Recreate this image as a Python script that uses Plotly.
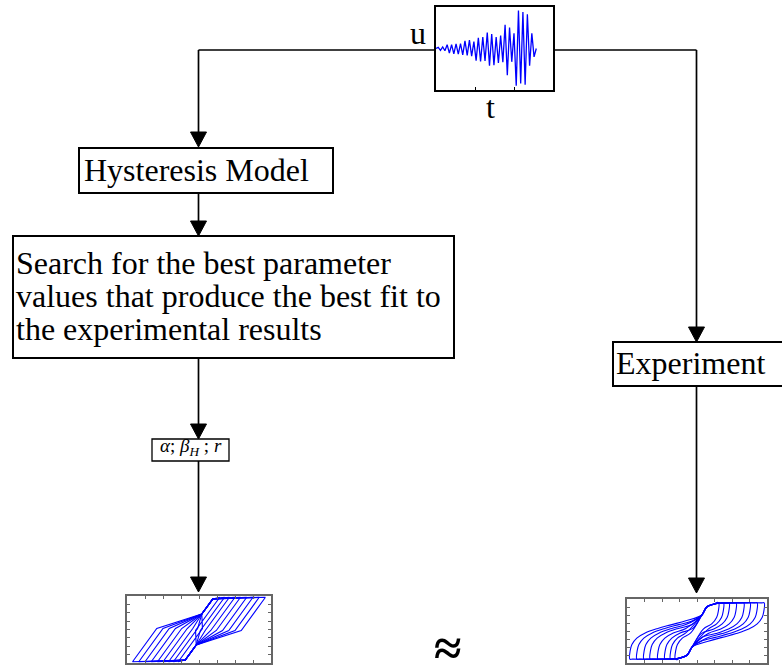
import plotly.graph_objects as go

W, H = 782, 666
FONT = "Liberation Serif"
BLUE = "#0000ff"

# Ground-motion record: successive half-cycle peaks (normalised amplitude)
SIGNAL_PEAKS = [0.03, 0.05, 0.04, 0.06, 0.10, 0.12, 0.10, 0.14, 0.12, 0.15, 0.13,
                0.17, 0.20, 0.18, 0.22, 0.20, 0.18, 0.32, 0.28, 0.34, 0.30, 0.33,
                0.42, 0.45, 0.38, 0.44, 0.30, 0.38, 0.34, 0.36, 0.62, 0.70, 0.55,
                0.35, 0.40, 0.98, 1.00, 0.92, 0.96, 0.95, 0.90, 0.45, 0.40, 0.22]

# Displacement amplitudes of the cycles (normalised)
MODEL_AMPS = [0.96, 0.87, 0.78, 0.69, 0.60, 0.52, 0.44, 0.37, 0.30]
EXP_AMPS = [0.96, 0.86, 0.76, 0.67, 0.56, 0.46, 0.38, 0.31]

# Model: peak force, elastic unloading, and pinching points shared by all cycles
MODEL_PEAK_F = 1.00
MODEL_UNLOAD = (-0.35, -1.03)               # (dx, dF) of the elastic unloading leg
MODEL_PINCH_X = [-0.04, -0.20]
MODEL_PINCH_F = [-0.48, -0.95]

# Experiment: unloading path measured from the reversal point, then the pinched core
EXP_PEAK_F = 0.88
EXP_UNLOAD_DX = [0.00, -0.005, -0.03, -0.10, -0.22, -0.40, -0.60, -0.80]
EXP_UNLOAD_F = [0.88, 0.62, 0.42, 0.22, 0.06, -0.08, -0.20, -0.32]
EXP_CORE_X = [-0.07, -0.14, -0.26]
EXP_CORE_F = [-0.50, -0.75, -0.85]


def closed(half):
    pts = half + [(-x, -y) for x, y in half] + [half[0]]
    return [p[0] for p in pts], [p[1] for p in pts]


def model_loop(a):
    half = [(a, MODEL_PEAK_F),
            (a + MODEL_UNLOAD[0], MODEL_PEAK_F + MODEL_UNLOAD[1])]
    half += list(zip(MODEL_PINCH_X, MODEL_PINCH_F))
    return closed(half)


def exp_loop(a):
    half = [(a + dx, f) for dx, f in zip(EXP_UNLOAD_DX, EXP_UNLOAD_F) if a + dx > 0.05]
    half += list(zip(EXP_CORE_X, EXP_CORE_F))
    half.append((-a + 0.04, -EXP_PEAK_F))
    return closed(half)


fig = go.Figure()

# --- excitation record ---
sig_t = [0] + [i + 1 for i in range(len(SIGNAL_PEAKS))] + [len(SIGNAL_PEAKS) + 1]
sig_u = [0] + [p if i % 2 == 0 else -p for i, p in enumerate(SIGNAL_PEAKS)] + [0]
fig.add_trace(go.Scatter(x=sig_t, y=sig_u, mode="lines", xaxis="x2", yaxis="y2",
                         line=dict(color=BLUE, width=1.3), hoverinfo="skip"))

# --- model hysteresis loops ---
for a in MODEL_AMPS:
    xs, fs = model_loop(a)
    fig.add_trace(go.Scatter(x=xs, y=fs, mode="lines", xaxis="x3", yaxis="y3",
                             line=dict(color=BLUE, width=1.1), hoverinfo="skip"))

# --- experimental hysteresis loops ---
for a in EXP_AMPS:
    xs, fs = exp_loop(a)
    fig.add_trace(go.Scatter(x=xs, y=fs, mode="lines", xaxis="x4", yaxis="y4",
                             line=dict(color=BLUE, width=1.1, shape="spline", smoothing=1.0),
                             hoverinfo="skip"))

shapes = []


def seg(x0, y0, x1, y1, w=1.7):
    shapes.append(dict(type="line", xref="x", yref="y", x0=x0, y0=y0, x1=x1, y1=y1,
                       line=dict(color="black", width=w)))


def rect(x0, y0, x1, y1, w=2):
    shapes.append(dict(type="rect", xref="x", yref="y", x0=x0, y0=y0, x1=x1, y1=y1,
                       line=dict(color="black", width=w), fillcolor="rgba(0,0,0,0)"))


def head(x, tip, hw=8, hl=15):
    shapes.append(dict(type="path", xref="x", yref="y",
                       path=f"M {x-hw} {tip-hl} L {x+hw} {tip-hl} L {x} {tip} Z",
                       fillcolor="black", line=dict(color="black", width=1)))


XL, XR = 198.5, 696.5

# connectors
seg(436, 50, XL, 50); seg(XL, 50, XL, 136); head(XL, 147)
seg(553, 50, XR, 50); seg(XR, 50, XR, 330); head(XR, 342)
seg(XL, 193, XL, 224); head(XL, 236)
seg(XL, 358, XL, 428); head(XL, 439)
seg(XL, 461, XL, 580); head(XL, 592)
seg(XR, 386, XR, 581); head(XR, 593)

# boxes
rect(79, 148, 333, 193)
rect(13, 236, 454, 358)
rect(152, 439, 229, 461, w=1.3)
rect(613, 342, 786, 386)

ann = []


def text(x, y, s, size, xanchor="left", **kw):
    ann.append(dict(x=x, y=y, xref="x", yref="y", text=s, showarrow=False,
                    xanchor=xanchor, yanchor="middle",
                    font=dict(family=FONT, size=size, color="black"), **kw))


text(82, 170, "Hysteresis Model", 32)
text(14, 263, "Search for the best parameter", 32)
text(14, 296, "values that produce the best fit to", 32)
text(14, 329, "the experimental results", 32)
text(614, 363, "Experiment", 32)
text(418, 33, "u", 32, "center")
text(490, 107, "t", 32, "center")
text(190.5, 447, "<i>α</i>; <i>β</i><sub><i>H</i></sub> ; <i>r</i>", 19, "center")
text(447, 648, "<b>≈</b>", 50, "center")


def dom_x(a, b):
    return [a / W, b / W]


def dom_y(top, bottom):
    return [(H - bottom) / H, (H - top) / H]


hidden = dict(visible=False, showgrid=False, zeroline=False)
box_axis = dict(showline=True, mirror="ticks", linewidth=1.5, ticks="inside",
                ticklen=3, showticklabels=False, showgrid=False, zeroline=False,
                fixedrange=True)
gray_axis = dict(box_axis, linecolor="#666666", tickcolor="#666666")
black_axis = dict(box_axis, linecolor="black", tickcolor="black")

fig.update_layout(
    width=W, height=H, margin=dict(l=0, r=0, t=0, b=0),
    paper_bgcolor="white", plot_bgcolor="rgba(0,0,0,0)", showlegend=False,
    xaxis=dict(hidden, range=[0, W], domain=[0, 1]),
    yaxis=dict(hidden, range=[H, 0], domain=[0, 1]),
    xaxis2=dict(black_axis, domain=dom_x(436, 553), anchor="y2", range=[0, 52.5],
                tickvals=[17.5, 35], mirror=True),
    yaxis2=dict(black_axis, domain=dom_y(7, 90), anchor="x2", range=[-1.09, 1.09],
                ticks="", mirror=True),
    xaxis3=dict(gray_axis, domain=dom_x(127, 271), anchor="y3", range=[-1.04, 1.04],
                tick0=0, dtick=0.26),
    yaxis3=dict(gray_axis, domain=dom_y(596, 663), anchor="x3", range=[-1.04, 1.04],
                tick0=0, dtick=0.26),
    xaxis4=dict(gray_axis, domain=dom_x(627, 767), anchor="y4", range=[-1.0, 1.0],
                tick0=0, dtick=0.25),
    yaxis4=dict(gray_axis, domain=dom_y(599, 663), anchor="x4", range=[-1.0, 1.0],
                tick0=0, dtick=0.25),
    shapes=shapes, annotations=ann,
)

fig.write_html("out.html")
